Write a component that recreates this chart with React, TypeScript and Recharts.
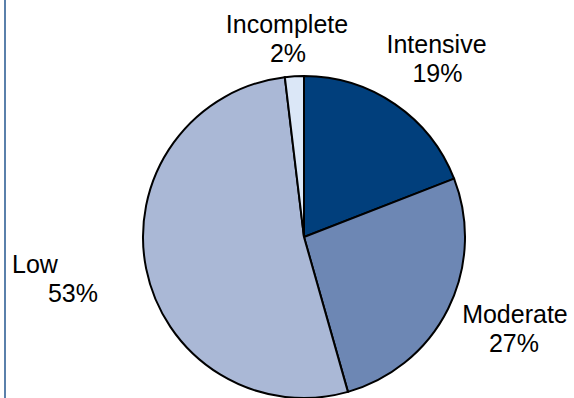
import React from 'react';
import { PieChart, Pie, Cell } from 'recharts';

// 能力分组（顺时针，从12点开始）
const categories = ['Intensive', 'Moderate', 'Low', 'Incomplete'];
const shares = [19.1, 26.5, 52.5, 1.9];
const shareLabels = ['19%', '27%', '53%', '2%'];

const COLORS = ['#013f7c', '#6d87b4', '#aab8d6', '#dbe7f7'];

// 标签相对默认位置的微调（布局用）
const labelNudge = [
  { dx: 19, dy: -18, dx2: 20 },
  { dx: 31, dy: -4, dx2: 30 },
  { dx: -72, dy: -4, dx2: -34 },
  { dx: -5, dy: -3, dx2: -4 },
];

const data = categories.map((name, i) => ({ name, value: shares[i], pct: shareLabels[i] }));

const RADIAN = Math.PI / 180;

const renderLabel = (props: any) => {
  const { cx, cy, midAngle, outerRadius, index } = props;
  const r = outerRadius + 40;
  const bx = cx + r * Math.cos(-midAngle * RADIAN);
  const by = cy + r * Math.sin(-midAngle * RADIAN);
  const n = labelNudge[index];
  const x1 = bx + n.dx;
  const y1 = by + n.dy;
  return (
    <g>
      <text x={x1} y={y1} textAnchor="middle" fill="#000" fontSize={25}>
        {data[index].name}
      </text>
      <text x={bx + n.dx2} y={y1 + 29} textAnchor="middle" fill="#000" fontSize={25}>
        {data[index].pct}
      </text>
    </g>
  );
};

const App = () => {
  return (
    <div
      style={{
        position: 'fixed',
        left: 0,
        top: 0,
        width: 574,
        height: 398,
        background: '#fff',
        fontFamily: '"Liberation Sans", Arial, sans-serif',
        overflow: 'hidden',
      }}
    >
      <div style={{ position: 'absolute', left: 4, top: 0, width: 2, height: 398, background: '#5a80ab' }} />
      <PieChart width={574} height={398} margin={{ top: 0, right: 0, bottom: 0, left: 0 }}>
        <Pie
          data={data}
          dataKey="value"
          nameKey="name"
          cx={304}
          cy={237}
          outerRadius={161}
          startAngle={90}
          endAngle={-270}
          stroke="#000"
          strokeWidth={2}
          label={renderLabel}
          labelLine={false}
          isAnimationActive={false}
        >
          {data.map((entry, index) => (
            <Cell key={`cell-${index}`} fill={COLORS[index]} />
          ))}
        </Pie>
      </PieChart>
    </div>
  );
};

export default App;
